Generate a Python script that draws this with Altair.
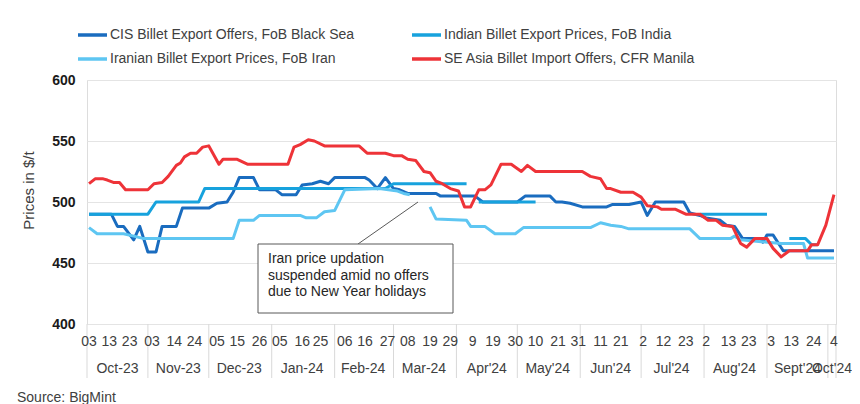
import altair as alt
import pandas as pd

FONT = "Liberation Sans"

SERIES = [
    "CIS Billet Export Offers, FoB Black Sea",
    "Indian Billet Export Prices, FoB India",
    "Iranian Billet Export Prices, FoB Iran",
    "SE Asia Billet Import Offers, CFR Manila",
]
COLORS = ["#1a6cbf", "#17a2dd", "#5ec6f2", "#ee3338"]

# CIS Billet Export Offers, FoB Black Sea
CIS_DATES = ["2023-10-03", "2023-10-14", "2023-10-17", "2023-10-20", "2023-10-25", "2023-10-28",
             "2023-11-01", "2023-11-05", "2023-11-08", "2023-11-15", "2023-11-18", "2023-12-01",
             "2023-12-05", "2023-12-10", "2023-12-13", "2023-12-16", "2023-12-23", "2023-12-26",
             "2024-01-03", "2024-01-06", "2024-01-13", "2024-01-16", "2024-01-21", "2024-01-25",
             "2024-01-29", "2024-02-01", "2024-02-16", "2024-02-18", "2024-02-22", "2024-02-26",
             "2024-03-01", "2024-03-04", "2024-03-08", "2024-03-22", "2024-03-24", "2024-04-10",
             "2024-04-14", "2024-05-01", "2024-05-05", "2024-05-17", "2024-05-20", "2024-05-23",
             "2024-05-27", "2024-06-02", "2024-06-14", "2024-06-17", "2024-06-25", "2024-07-01",
             "2024-07-04", "2024-07-08", "2024-07-22", "2024-07-25", "2024-07-30", "2024-08-02",
             "2024-08-09", "2024-08-12", "2024-08-16", "2024-08-20", "2024-08-29", "2024-08-30",
             "2024-09-01", "2024-09-04", "2024-09-09", "2024-10-04"]
CIS_VALUES = [490, 490, 480, 480, 469, 480,
              459, 459, 480, 480, 495, 495,
              499, 500, 508, 520, 520, 510,
              510, 506, 506, 514, 515, 517,
              515, 520, 520, 518, 511, 520,
              511, 510, 507, 507, 505, 505,
              500, 500, 505, 505, 500, 500,
              499, 496, 496, 498, 498, 500,
              489, 500, 500, 491, 489, 487,
              485, 481, 480, 470, 470, 467,
              473, 473, 460, 460]

# Indian Billet Export Prices, FoB India (None = no quote, line breaks)
IND_DATES = ["2023-10-03", "2023-11-01", "2023-11-05", "2023-11-26", "2023-11-29", "2024-02-26",
             "2024-03-01", "2024-04-06", "2024-04-09", "2024-04-12", "2024-05-10", "2024-06-01",
             "2024-07-30", "2024-09-01", "2024-09-06", "2024-09-12", "2024-09-20", "2024-09-23",
             "2024-09-26"]
IND_VALUES = [490, 490, 500, 500, 511, 511,
              515, 515, None, 500, 500, None,
              490, 490, None, 470, 470, 465,
              465]

# Iranian Billet Export Prices, FoB Iran
IRN_DATES = ["2023-10-03", "2023-10-07", "2023-10-20", "2023-10-25", "2023-10-30", "2023-12-13",
             "2023-12-16", "2023-12-23", "2023-12-26", "2024-01-15", "2024-01-18", "2024-01-23",
             "2024-01-27", "2024-02-01", "2024-02-06", "2024-02-23", "2024-03-03", "2024-03-06",
             "2024-03-09", "2024-03-14", "2024-03-19", "2024-03-22", "2024-04-06", "2024-04-08",
             "2024-04-15", "2024-04-20", "2024-04-30", "2024-05-04", "2024-06-06", "2024-06-11",
             "2024-06-16", "2024-06-21", "2024-06-25", "2024-07-25", "2024-07-30", "2024-08-14",
             "2024-08-16", "2024-08-19", "2024-09-08", "2024-09-19", "2024-09-21", "2024-10-04"]
IRN_VALUES = [479, 474, 474, 472, 470, 470,
              485, 485, 489, 489, 487, 487,
              492, 493, 510, 511, 509, 507,
              506, None, 496, 486, 485, 480,
              480, 474, 474, 479, 479, 483,
              481, 480, 478, 478, 470, 470,
              472, 469, 466, 466, 454, 454]

# SE Asia Billet Import Offers, CFR Manila
SEA_DATES = ["2023-10-03", "2023-10-06", "2023-10-10", "2023-10-12", "2023-10-15", "2023-10-18",
             "2023-10-21", "2023-11-01", "2023-11-04", "2023-11-08", "2023-11-11", "2023-11-15",
             "2023-11-17", "2023-11-19", "2023-11-22", "2023-11-25", "2023-11-28", "2023-12-01",
             "2023-12-03", "2023-12-06", "2023-12-08", "2023-12-15", "2023-12-20", "2024-01-09",
             "2024-01-12", "2024-01-15", "2024-01-19", "2024-01-22", "2024-01-27", "2024-02-13",
             "2024-02-17", "2024-02-26", "2024-03-01", "2024-03-05", "2024-03-08", "2024-03-12",
             "2024-03-16", "2024-03-19", "2024-03-22", "2024-03-25", "2024-03-29", "2024-04-02",
             "2024-04-05", "2024-04-08", "2024-04-12", "2024-04-15", "2024-04-18", "2024-04-23",
             "2024-04-28", "2024-05-03", "2024-05-06", "2024-05-10", "2024-06-02", "2024-06-06",
             "2024-06-11", "2024-06-14", "2024-06-16", "2024-06-21", "2024-06-27", "2024-07-01",
             "2024-07-04", "2024-07-09", "2024-07-11", "2024-07-18", "2024-07-23", "2024-07-30",
             "2024-08-03", "2024-08-07", "2024-08-10", "2024-08-15", "2024-08-19", "2024-08-22",
             "2024-08-26", "2024-09-01", "2024-09-04", "2024-09-08", "2024-09-12", "2024-09-21",
             "2024-09-23", "2024-09-26", "2024-09-30", "2024-10-04"]
SEA_VALUES = [515, 519, 519, 518, 516, 516,
              510, 510, 515, 516, 521, 530,
              532, 537, 540, 540, 545, 546,
              540, 531, 535, 535, 531, 531,
              545, 547, 551, 550, 546, 546,
              540, 540, 538, 538, 535, 534,
              525, 524, 517, 515, 511, 509,
              496, 496, 510, 510, 514, 531,
              531, 525, 530, 525, 525, 521,
              519, 511, 511, 508, 508, 504,
              497, 496, 494, 494, 490, 490,
              485, 485, 481, 480, 466, 463,
              470, 470, 462, 455, 460, 460,
              465, 465, 481, 506]

# Axis category labels
TICK_DATES = ["2023-10-03", "2023-10-13", "2023-10-23", "2023-11-03", "2023-11-14", "2023-11-24",
              "2023-12-05", "2023-12-15", "2023-12-26", "2024-01-05", "2024-01-16", "2024-01-25",
              "2024-02-06", "2024-02-16", "2024-02-27", "2024-03-08", "2024-03-19", "2024-03-29",
              "2024-04-09", "2024-04-19", "2024-04-30", "2024-05-10", "2024-05-21", "2024-05-31",
              "2024-06-11", "2024-06-21", "2024-07-02", "2024-07-12", "2024-07-23", "2024-08-02",
              "2024-08-13", "2024-08-23", "2024-09-03", "2024-09-13", "2024-09-24", "2024-10-04"]
TICK_LABELS = ["03", "13", "23", "03", "14", "24", "05", "15", "26", "05", "16", "25",
               "06", "16", "27", "08", "19", "29", "9", "19", "30", "10", "21", "31",
               "11", "21", "2", "12", "23", "2", "13", "23", "3", "13", "24", "4"]
MONTH_DATES = ["2023-10-17", "2023-11-16", "2023-12-16", "2024-01-16", "2024-02-15", "2024-03-16",
               "2024-04-16", "2024-05-16", "2024-06-16", "2024-07-16", "2024-08-16", "2024-09-16",
               "2024-10-03"]
MONTH_LABELS = ["Oct-23", "Nov-23", "Dec-23", "Jan-24", "Feb-24", "Mar-24",
                "Apr'24", "May'24", "Jun'24", "Jul'24", "Aug'24", "Sept'24", "Oct'24"]
SEPARATOR_DATES = ["2023-10-02", "2023-11-01", "2023-12-01", "2024-01-01", "2024-02-01", "2024-03-01",
                   "2024-04-01", "2024-05-01", "2024-06-01", "2024-07-01", "2024-08-01", "2024-09-01",
                   "2024-10-01", "2024-10-05"]

ANNOTATION = "Iran price updation\nsuspended amid no offers\ndue to New Year holidays"
SOURCE = "Source: BigMint"


def build(name, dates, values):
    rows = []
    seg = 0
    for d, v in zip(dates, values):
        if v is None:
            seg += 1
            continue
        rows.append({"date": d, "value": v, "series": name, "seg": f"{name}-{seg}"})
    return rows


df = pd.DataFrame(
    build(SERIES[0], CIS_DATES, CIS_VALUES)
    + build(SERIES[1], IND_DATES, IND_VALUES)
    + build(SERIES[2], IRN_DATES, IRN_VALUES)
    + build(SERIES[3], SEA_DATES, SEA_VALUES)
)

W, H = 749, 244
x_scale = alt.Scale(domain=[alt.DateTime(year=2023, month=10, date=2, utc=True),
                            alt.DateTime(year=2024, month=10, date=5, utc=True)])


def X():
    return alt.X("date:T", scale=x_scale, axis=None)


lines = alt.Chart(df).mark_line(strokeWidth=3, strokeJoin="round").encode(
    x=X(),
    y=alt.Y("value:Q",
            scale=alt.Scale(domain=[400, 600], nice=False, zero=False),
            axis=alt.Axis(values=[400, 450, 500, 550, 600], title="Prices in $/t",
                          grid=True, gridColor="#e4e4e4", domain=False, ticks=False,
                          labelFont=FONT, labelFontSize=14, labelFontWeight="bold",
                          labelColor="#1a1a1a", labelPadding=12,
                          titleFont=FONT, titleFontSize=15, titleFontWeight="normal",
                          titleColor="#404040", titleX=-59, titleY=110,
                          titleBaseline="middle")),
    color=alt.Color("series:N", scale=alt.Scale(domain=SERIES, range=COLORS), legend=None),
    detail="seg:N",
)

ticks_df = pd.DataFrame({"date": TICK_DATES, "label": TICK_LABELS})
day_text = alt.Chart(ticks_df).mark_text(font=FONT, fontSize=14, color="#404040",
                                         baseline="middle").encode(
    x=X(), y=alt.value(262), text="label:N")

month_df = pd.DataFrame({"date": MONTH_DATES, "label": MONTH_LABELS})
month_text = alt.Chart(month_df).mark_text(font=FONT, fontSize=14, color="#404040",
                                           baseline="middle").encode(
    x=X(), y=alt.value(289), text="label:N")

sep_df = pd.DataFrame({"date": SEPARATOR_DATES})
seps = alt.Chart(sep_df).mark_rule(color="#d9d9d9", strokeWidth=1).encode(
    x=X(), y=alt.value(244), y2=alt.value(298))

# Annotation box
note_df = pd.DataFrame({"t": [ANNOTATION]})
note_box = alt.Chart(note_df).mark_rect(fill="white", stroke="#595959", strokeWidth=1).encode(
    x=alt.value(171), x2=alt.value(366), y=alt.value(164), y2=alt.value(233))
note_line = alt.Chart(note_df).mark_rule(color="#595959", strokeWidth=1).encode(
    x=alt.value(271), x2=alt.value(331), y=alt.value(164), y2=alt.value(122))
note_text = alt.Chart(note_df).mark_text(font=FONT, fontSize=14, color="#262626", align="left",
                                         baseline="middle", lineBreak="\n",
                                         lineHeight=16.5).encode(
    x=alt.value(181), y=alt.value(179), text="t:N")

src = alt.Chart(pd.DataFrame({"t": [SOURCE]})).mark_text(
    font=FONT, fontSize=14, color="#404040", align="left", baseline="middle").encode(
    x=alt.value(-70), y=alt.value(318), text="t:N")

# Legend (two columns)
legend_layers = []
leg_pos = [(-9, -45), (325, -45), (-9, -21), (325, -21)]
for name, col, (lx, ly) in zip(SERIES, COLORS, leg_pos):
    d = pd.DataFrame({"t": [name]})
    legend_layers.append(
        alt.Chart(d).mark_rule(color=col, strokeWidth=3.5).encode(
            x=alt.value(lx), x2=alt.value(lx + 29), y=alt.value(ly)))
    legend_layers.append(
        alt.Chart(d).mark_text(font=FONT, fontSize=14, color="#404040", align="left",
                               baseline="middle").encode(
            x=alt.value(lx + 32), y=alt.value(ly), text="t:N"))

chart = alt.layer(
    lines, seps, day_text, month_text, note_line, note_box, note_text, src, *legend_layers
).properties(
    width=W, height=H,
    autosize=alt.AutoSizeParams(type="none"),
    padding={"left": 79, "top": 72, "right": 16, "bottom": 80},
).configure_view(stroke=None).configure(background="white")

chart.save("out.html", embed_options={"renderer": "svg", "actions": False})
